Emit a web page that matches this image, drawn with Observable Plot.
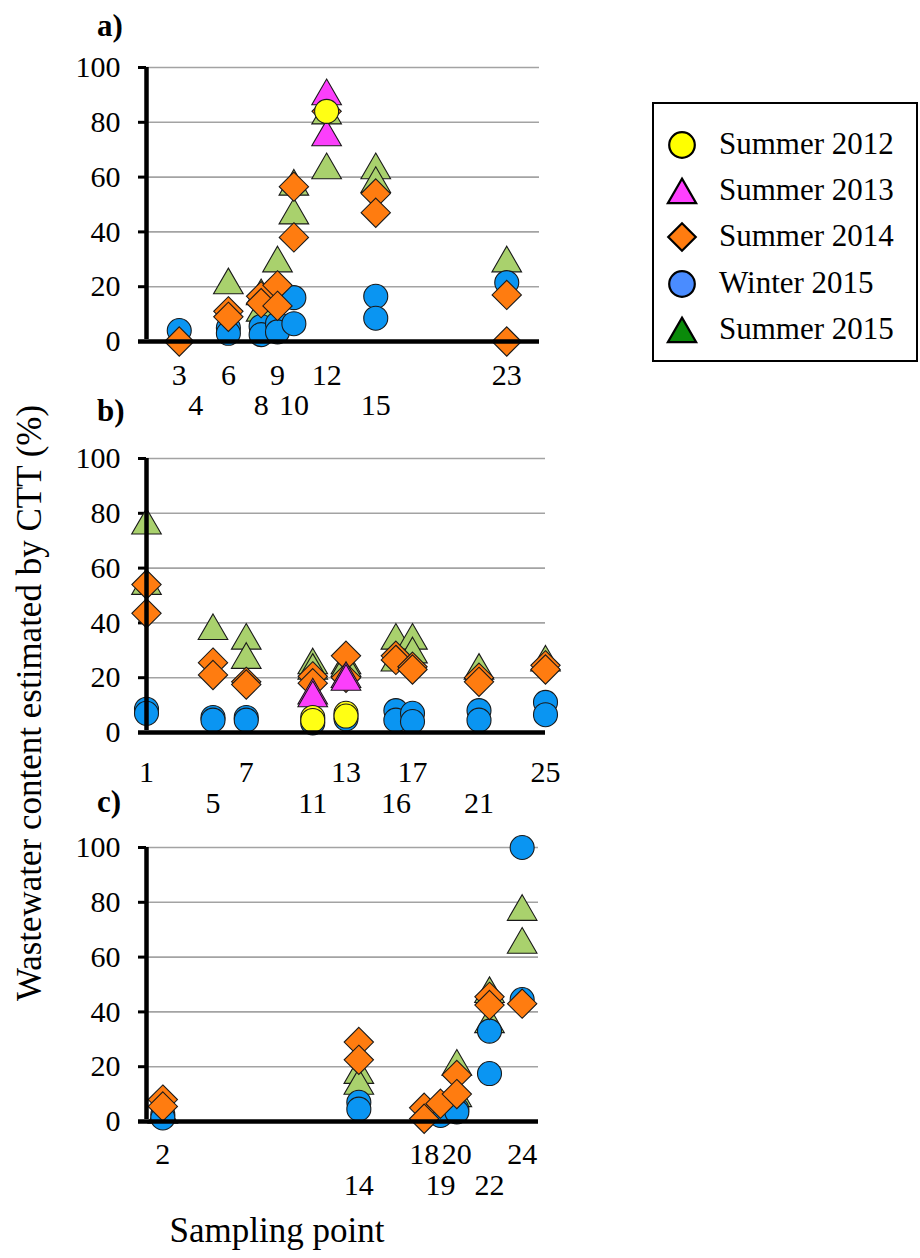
<!DOCTYPE html>
<html><head><meta charset="utf-8">
<script src="https://cdn.jsdelivr.net/npm/d3@7"></script>
<script src="https://cdn.jsdelivr.net/npm/@observablehq/plot@0.6"></script>
<style>
body{margin:0;background:#fff;}
#root{position:relative;width:920px;height:1258px;font-family:"Liberation Serif","Times New Roman",serif;color:#000;overflow:hidden;}
.abs{position:absolute;white-space:nowrap;line-height:1;}
.plot{position:absolute;left:0;}
</style></head><body><div id="root"></div>
<script>
// ---------- series meta ----------
const seriesNames   = ["Summer 2012", "Summer 2013", "Summer 2014", "Winter 2015", "Summer 2015"];
const seriesSymbols = ["circle", "triangle", "diamond2", "circle", "triangle"];
const chartColors   = ["#ffff14", "#fb3ffb", "#ff7c10", "#0a95f2", "#a9d16d"];
const legendColors  = ["#ffff00", "#ff40ff", "#ff7c10", "#4a8cff", "#0a8a0a"];
const drawOrder     = [4, 3, 2, 1, 0];

// ---------- y axis ----------
const yTicks = [0, 20, 40, 60, 80, 100];

// ---------- panel a) : [sampling point, %] ----------
const a_S2012 = [[12, 84]];
const a_S2013 = [[12, 91], [12, 76]];
const a_S2014 = [[3, 0], [6, 11], [6, 9], [8, 16.5], [8, 14], [9, 20.5], [9, 13], [10, 56.5], [10, 38], [12, 84], [15, 54], [15, 47], [23, 17], [23, 0]];
const a_W2015 = [[3, 4], [6, 5], [6, 3], [8, 5.5], [8, 2.5], [9, 6.5], [9, 3.5], [10, 16], [10, 6.5], [15, 16.5], [15, 8.5], [23, 21.5]];
const a_S2015 = [[6, 22], [8, 18], [8, 12], [9, 30], [10, 58], [10, 47.5], [12, 84], [12, 64], [15, 64], [15, 59], [23, 30]];
const a_ticksRow1 = [3, 6, 9, 12, 23];
const a_ticksRow2 = [4, 8, 10, 15];

// ---------- panel b) ----------
const b_S2012 = [[11, 5.5], [11, 4.4], [13, 7], [13, 6]];
const b_S2013 = [[11, 15], [11, 14], [13, 21], [13, 20]];
const b_S2014 = [[1, 54], [1, 43.5], [5, 25.5], [5, 21], [7, 18.5], [7, 17.5], [11, 20.5], [11, 18], [13, 28], [13, 20], [16, 28], [16, 26.5], [17, 24], [17, 23], [21, 20], [21, 18.5], [25, 24.5], [25, 23]];
const b_W2015 = [[1, 8.5], [1, 7], [5, 5.5], [5, 4.5], [7, 5.5], [7, 4.5], [11, 3.5], [13, 5], [16, 8], [16, 4.5], [17, 7], [17, 4], [21, 8], [21, 4.5], [25, 11], [25, 6.5]];
const b_S2015 = [[1, 77], [1, 55], [5, 38.5], [7, 35], [7, 28], [11, 26], [11, 24], [13, 26], [13, 25], [16, 35], [16, 27], [17, 35], [17, 30], [21, 24], [25, 27]];
const b_ticksRow1 = [1, 7, 13, 17, 25];
const b_ticksRow2 = [5, 11, 16, 21];

// ---------- panel c) ----------
const c_S2012 = [];
const c_S2013 = [];
const c_S2014 = [[2, 8], [2, 5.5], [14, 29], [14, 22.5], [18, 5], [18, 1], [19, 6.5], [20, 17], [20, 10], [22, 45.5], [22, 42.5], [24, 43]];
const c_W2015 = [[2, 2.5], [2, 1.3], [14, 7], [14, 4.5], [19, 2.2], [20, 4.5], [20, 3.5], [22, 33], [22, 17.5], [24, 100], [24, 44.5]];
const c_S2015 = [[2, 4], [14, 18.5], [14, 14.5], [19, 5], [20, 21.5], [20, 10], [22, 48], [22, 37], [24, 78], [24, 66]];
const c_ticksRow1 = [2, 18, 20, 24];
const c_ticksRow2 = [14, 19, 22];

// ---------- texts ----------
const yTitle = "Wastewater content estimated by CTT (%)";
const xTitle = "Sampling point";

const panels = [
  {label: "a)", labelTop: 10,  series: [a_S2012, a_S2013, a_S2014, a_W2015, a_S2015], row1: a_ticksRow1, row2: a_ticksRow2, top: 40,  marginRight: 21, pad1: 22, pad2: 52},
  {label: "b)", labelTop: 395, series: [b_S2012, b_S2013, b_S2014, b_W2015, b_S2015], row1: b_ticksRow1, row2: b_ticksRow2, top: 431, marginRight: 15, pad1: 28, pad2: 59},
  {label: "c)", labelTop: 786, series: [c_S2012, c_S2013, c_S2014, c_W2015, c_S2015], row1: c_ticksRow1, row2: c_ticksRow2, top: 820, marginRight: 22, pad1: 21, pad2: 52}
];

const symbolR = {circle: 12, diamond2: 13.2, triangle: 11};
const root = document.getElementById("root");

function makePanel(p) {
  const marks = [
    Plot.gridY(yTicks.filter(d => d > 0), {stroke: "#a3a3a3", strokeOpacity: 1, strokeWidth: 1.6}),
    Plot.axisY(yTicks, {tickSize: 8, tickPadding: 18, strokeWidth: 3, fontSize: 30}),
    Plot.axisX(p.row1, {tickSize: 0, tickPadding: p.pad1, fontSize: 30}),
    Plot.axisX(p.row2, {tickSize: 0, tickPadding: p.pad2, fontSize: 30})
  ];
  for (const i of drawOrder) {
    const sym = seriesSymbols[i];
    marks.push(Plot.dot(p.series[i], {
      x: d => d[0], y: d => d[1],
      symbol: sym, r: symbolR[sym],
      fill: chartColors[i], stroke: "#1a1a1a", strokeWidth: 1.1,
      dy: sym === "triangle" ? 4 : 0
    }));
  }
  marks.push(Plot.ruleX([1], {y1: 0, y2: 100, stroke: "#000", strokeWidth: 4.5, insetTop: -2}));
  marks.push(Plot.ruleY([0], {stroke: "#000", strokeWidth: 4.5, insetLeft: -8}));
  const svg = Plot.plot({
    width: 560, height: 391,
    marginLeft: 146, marginRight: p.marginRight, marginTop: 27, marginBottom: 90,
    x: {domain: [1, 25]},
    y: {domain: [0, 100]},
    style: {fontFamily: "'Liberation Serif', 'Times New Roman', serif", color: "#000", background: "transparent", overflow: "visible"},
    marks
  });
  svg.classList.add("plot");
  svg.style.top = p.top + "px";
  root.appendChild(svg);

  const lab = document.createElement("div");
  lab.className = "abs";
  lab.textContent = p.label;
  lab.style.cssText = `left:97px;top:${p.labelTop}px;font-size:31px;font-weight:bold;`;
  root.appendChild(lab);
}
panels.forEach(makePanel);

// y title
const yt = document.createElement("div");
yt.className = "abs";
yt.textContent = yTitle;
yt.style.cssText = "left:29px;top:703px;font-size:35px;transform:translate(-50%,-50%) rotate(-90deg);";
root.appendChild(yt);

// x title
const xt = document.createElement("div");
xt.className = "abs";
xt.textContent = xTitle;
xt.style.cssText = "left:277px;top:1213px;font-size:35px;transform:translateX(-50%);";
root.appendChild(xt);

// legend
const leg = document.createElement("div");
leg.className = "abs";
leg.style.cssText = "left:652px;top:102px;width:262px;height:256px;border:2px solid #000;";
root.appendChild(leg);
seriesNames.forEach((name, i) => {
  const cy = 145 + i * 46.2;
  const s = d3.create("svg").attr("width", 40).attr("height", 40)
    .style("position", "absolute").style("left", "662px").style("top", (cy - 20) + "px");
  const sym = seriesSymbols[i];
  const dsym = sym === "circle" ? d3.symbolCircle : sym === "triangle" ? d3.symbolTriangle : d3.symbolDiamond2;
  const rr = sym === "circle" ? 12.8 : sym === "triangle" ? 10.5 : 12.4;
  s.append("path").attr("d", d3.symbol(dsym, Math.PI * rr * rr)())
    .attr("transform", `translate(20,${sym === "triangle" ? 24 : 20})`)
    .attr("fill", legendColors[i]).attr("stroke", "#000").attr("stroke-width", 2.2);
  root.appendChild(s.node());
  const t = document.createElement("div");
  t.className = "abs";
  t.textContent = name;
  t.style.cssText = `left:719px;top:${cy - 17}px;font-size:31px;`;
  root.appendChild(t);
});
</script></body></html>
